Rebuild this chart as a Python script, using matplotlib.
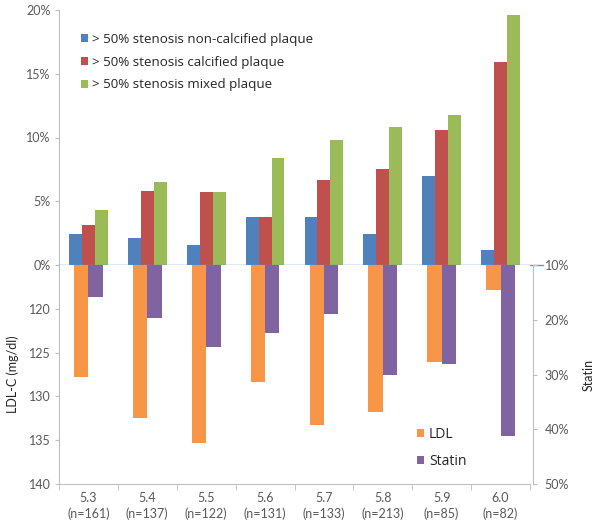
import matplotlib
matplotlib.use("Agg")
import matplotlib.pyplot as plt
import numpy as np

plt.rcParams['font.family'] = ['Lato', 'DejaVu Sans']

categories = ["5.3\n(n=161)", "5.4\n(n=137)", "5.5\n(n=122)", "5.6\n(n=131)",
              "5.7\n(n=133)", "5.8\n(n=213)", "5.9\n(n=85)", "6.0\n(n=82)"]
non_calcified = [2.4, 2.1, 1.6, 3.8, 3.8, 2.4, 7.0, 1.2]
calcified = [3.1, 5.8, 5.7, 3.8, 6.7, 7.5, 10.6, 15.9]
mixed = [4.3, 6.5, 5.7, 8.4, 9.8, 10.8, 11.8, 19.6]
ldl = [127.8, 132.5, 135.3, 128.4, 133.3, 131.8, 126.1, 117.9]
statin = [15.8, 19.6, 25.0, 22.4, 19.0, 30.0, 28.0, 41.3]

top_ticks = [0, 5, 10, 15, 20]
ldl_ticks = [120, 125, 130, 135, 140]
statin_ticks = [10, 20, 30, 40, 50]

C_BLUE = '#4F81BD'
C_RED = '#C0504D'
C_GREEN = '#9BBB59'
C_ORANGE = '#F79646'
C_PURPLE = '#8064A2'
C_AXIS = '#BFBFBF'
C_TEXT = '#595959'

W, H = 600, 526
fig = plt.figure(figsize=(W / 100, H / 100), dpi=100)

x0, x1 = 59, 530
ytop, yzero, ybot = 10, 265, 484
ax_top = fig.add_axes([x0 / W, 1 - yzero / H, (x1 - x0) / W, (yzero - ytop) / H])
ax_bot = fig.add_axes([x0 / W, 1 - ybot / H, (x1 - x0) / W, (ybot - yzero) / H])
ax_stat = ax_bot.twinx()

x = np.arange(len(categories))
bw = 0.22
ax_top.bar(x - bw, non_calcified, bw, color=C_BLUE, label='> 50% stenosis non-calcified plaque')
ax_top.bar(x, calcified, bw, color=C_RED, label='> 50% stenosis calcified plaque')
ax_top.bar(x + bw, mixed, bw, color=C_GREEN, label='> 50% stenosis mixed plaque')
ax_top.set_xlim(-0.5, len(categories) - 0.5)
ax_top.set_ylim(0, 20)
ax_top.set_yticks(top_ticks)
ax_top.set_yticklabels([f"{t}%" for t in top_ticks])
ax_top.set_xticks([])
for s in ['top', 'right', 'bottom']:
    ax_top.spines[s].set_visible(False)
ax_top.spines['left'].set_color(C_AXIS)
ax_top.tick_params(axis='y', colors=C_TEXT, labelsize=9, length=3, color=C_AXIS, pad=3)
ax_top.axhline(0, xmin=0, xmax=1.028, color='#5B9BD5', lw=1.0, clip_on=False, zorder=5)
ax_top.patch.set_alpha(0)

leg1 = ax_top.legend(loc='upper left', bbox_to_anchor=(0.035, 0.93), frameon=False,
                     prop={'family': ['Open Sans', 'DejaVu Sans'], 'size': 9.6},
                     handlelength=0.55, handleheight=0.55, handletextpad=0.3,
                     labelspacing=0.72, borderaxespad=0)
for t in leg1.get_texts():
    t.set_color('#262626')

bw2 = 0.245
b_ldl = ax_bot.bar(x - bw2 / 2, [v - 115 for v in ldl], bw2, bottom=115, color=C_ORANGE, label='LDL')
b_st = ax_stat.bar(x + bw2 / 2, [v - 10 for v in statin], bw2, bottom=10, color=C_PURPLE, label='Statin')
ax_bot.set_xlim(-0.5, len(categories) - 0.5)
ax_bot.set_ylim(140, 115)
ax_bot.set_yticks(ldl_ticks)
ax_bot.set_yticklabels([str(t) for t in ldl_ticks])
ax_stat.set_ylim(50, 10)
ax_stat.set_yticks(statin_ticks)
ax_stat.set_yticklabels([f"{t}%" for t in statin_ticks])

ax_bot.set_xticks(x)
ax_bot.set_xticklabels(categories, linespacing=1.3)
ax_bot.set_xticks(np.arange(-0.5, len(categories)), minor=True)
ax_bot.tick_params(axis='x', which='major', length=0, pad=6, colors=C_TEXT, labelsize=9)
ax_bot.tick_params(axis='x', which='minor', length=4, color=C_AXIS)
ax_bot.tick_params(axis='y', colors=C_TEXT, labelsize=9, length=3, color=C_AXIS, pad=3)
ax_stat.tick_params(axis='y', colors=C_TEXT, labelsize=9, length=3, color=C_AXIS, pad=5)
for s in ['top', 'right']:
    ax_bot.spines[s].set_visible(False)
ax_bot.spines['left'].set_color(C_AXIS)
ax_bot.spines['bottom'].set_color(C_AXIS)
for s in ['top', 'left', 'bottom']:
    ax_stat.spines[s].set_visible(False)
ax_stat.spines['right'].set_color(C_AXIS)
ax_stat.spines['right'].set_position(('outward', 2.5))

ax_bot.set_ylabel('LDL-C (mg/dl)', fontsize=9, color='#262626', labelpad=7)
ax_stat.set_ylabel('Statin', fontsize=9, color='#262626', labelpad=10)

leg2 = ax_stat.legend(handles=[b_ldl, b_st], loc='upper left', bbox_to_anchor=(352 / 471, 0.285),
                      frameon=False, prop={'family': ['Open Sans', 'DejaVu Sans'], 'size': 10},
                      handlelength=0.55, handleheight=0.55,
                      handletextpad=0.35, labelspacing=0.85, borderaxespad=0)
for t in leg2.get_texts():
    t.set_color('#262626')

fig.savefig('out.png', dpi=100, facecolor='white')
